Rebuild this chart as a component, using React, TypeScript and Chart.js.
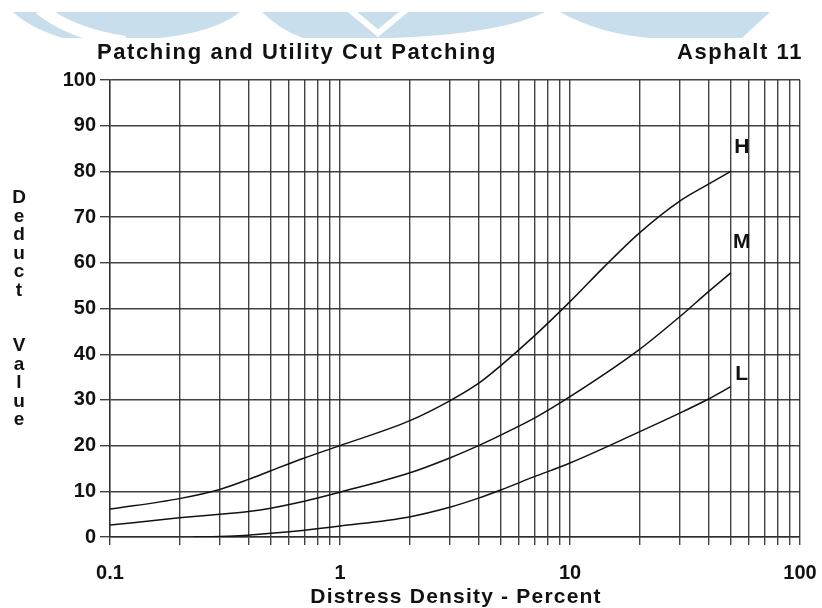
import { useEffect, useRef } from 'react';
import { Chart, registerables } from 'chart.js';

Chart.register(...registerables);

// ---- data ----
const X_GRID = [0.1, 0.2, 0.3, 0.4, 0.5, 0.6, 0.7, 0.8, 0.9, 1, 2, 3, 4, 5, 6, 7, 8, 9, 10, 20, 30, 40, 50, 60, 70, 80, 90, 100];
const X_LABELED = [0.1, 1, 10, 100];
const X_LABELS = ['0.1', '1', '10', '100'];
const Y_MIN = 0;
const Y_MAX = 100;
const Y_STEP = 10;

const H_DENSITY = [0.1, 0.2, 0.3, 0.4, 0.5, 0.7, 1, 2, 3, 4, 5, 7, 10, 14, 20, 30, 40, 50];
const H_VALUES = [6.1, 8.4, 10.4, 12.6, 14.5, 17.3, 20, 25.4, 29.8, 33.6, 37.5, 44, 51.5, 59, 66.5, 73.5, 77.2, 80];

const M_DENSITY = [0.1, 0.2, 0.3, 0.4, 0.5, 0.7, 1, 2, 3, 4, 5, 7, 10, 20, 30, 40, 50];
const M_VALUES = [2.6, 4.2, 5, 5.6, 6.3, 7.8, 9.8, 14, 17.3, 20, 22.3, 26, 30.7, 41, 48.2, 53.7, 57.8];

const L_DENSITY = [0.23, 0.3, 0.4, 0.5, 0.7, 1, 2, 3, 4, 5, 7, 10, 20, 30, 40, 50];
const L_VALUES = [0, 0.1, 0.4, 0.8, 1.5, 2.4, 4.4, 6.5, 8.5, 10.3, 13.2, 16.2, 23, 27.1, 30.2, 32.9];

const SERIES_NAMES = ['H', 'M', 'L'];
const TITLE = 'Patching and Utility Cut Patching';
const SUBTITLE = 'Asphalt 11';
const X_TITLE = 'Distress Density - Percent';
const Y_TITLE = 'Deduct Value';

// ---- styles ----
const FONT = '"Liberation Sans", Arial, Helvetica, sans-serif';
const INK = '#111';
const GRID = 'rgba(45,45,45,0.9)';
const LABEL_OFFSETS: [number, number][] = [[11, -24], [11, -31], [11, -12]];

const toPts = (xs: number[], ys: number[]) => xs.map((x, i) => ({ x, y: ys[i] }));

const textPlugin = {
  id: 'texts',
  beforeDraw(chart: any) {
    const ctx = chart.ctx;
    ctx.save();
    ctx.fillStyle = '#fff';
    ctx.fillRect(0, 0, chart.width, chart.height);
    // watermark band
    ctx.fillStyle = '#c9deec';
    ctx.beginPath();
    ctx.moveTo(13, 12);
    ctx.lineTo(770, 12);
    ctx.lineTo(742, 38);
    ctx.lineTo(63, 38);
    ctx.quadraticCurveTo(30, 28, 13, 12);
    ctx.closePath();
    ctx.fill();
    ctx.fillStyle = '#fff';
    ctx.strokeStyle = '#fff';
    ctx.lineWidth = 12;
    ctx.beginPath();
    ctx.moveTo(40, 9);
    ctx.quadraticCurveTo(72, 34, 125, 42);
    ctx.stroke();
    ctx.beginPath();
    ctx.moveTo(160, 38);
    ctx.quadraticCurveTo(215, 32, 240, 12);
    ctx.lineTo(262, 12);
    ctx.quadraticCurveTo(280, 30, 303, 38);
    ctx.closePath();
    ctx.fill();
    ctx.lineWidth = 6;
    ctx.beginPath();
    ctx.moveTo(350, 10);
    ctx.lineTo(378, 33);
    ctx.lineTo(406, 10);
    ctx.stroke();
    ctx.beginPath();
    ctx.moveTo(392, 38);
    ctx.quadraticCurveTo(500, 34, 545, 12);
    ctx.lineTo(560, 12);
    ctx.quadraticCurveTo(600, 34, 650, 38);
    ctx.closePath();
    ctx.fill();
    ctx.restore();
  },
  afterDraw(chart: any) {
    const ctx = chart.ctx;
    const xs = chart.scales.x;
    const ys = chart.scales.y;
    ctx.save();
    ctx.fillStyle = INK;
    ctx.textBaseline = 'alphabetic';
    ctx.font = `bold 22px ${FONT}`;
    (ctx as any).letterSpacing = '1.6px';
    ctx.textAlign = 'left';
    ctx.fillText(TITLE, 97, 59);
    ctx.textAlign = 'right';
    ctx.fillText(SUBTITLE, 803, 59);

    ctx.font = `bold 21px ${FONT}`;
    (ctx as any).letterSpacing = '1.2px';
    ctx.textAlign = 'center';
    ctx.textBaseline = 'middle';
    ctx.fillText(X_TITLE, (xs.left + xs.right) / 2 + 1, 597);

    (ctx as any).letterSpacing = '0px';
    ctx.font = `bold 19px ${FONT}`;
    let yy = 198;
    for (const ch of Y_TITLE) {
      if (ch === ' ') { yy += 18.5 * 2; continue; }
      ctx.fillText(ch, 19, yy);
      yy += 18.5;
    }

    ctx.font = `bold 21px ${FONT}`;
    const sets = [H_DENSITY, M_DENSITY, L_DENSITY];
    const vals = [H_VALUES, M_VALUES, L_VALUES];
    SERIES_NAMES.forEach((n, i) => {
      const lx = xs.getPixelForValue(sets[i][sets[i].length - 1]) + LABEL_OFFSETS[i][0];
      const ly = ys.getPixelForValue(vals[i][vals[i].length - 1]) + LABEL_OFFSETS[i][1];
      ctx.fillText(n, lx, ly);
    });
    ctx.restore();
  },
};

export default function App() {
  const ref = useRef<HTMLCanvasElement | null>(null);
  useEffect(() => {
    if (!ref.current) return;
    const ds = (xs: number[], ys: number[]) => ({
      data: toPts(xs, ys),
      showLine: true,
      borderColor: INK,
      borderWidth: 1.5,
      pointRadius: 0,
      cubicInterpolationMode: 'monotone' as const,
      fill: false,
    });
    const chart = new Chart(ref.current, {
      type: 'scatter',
      data: {
        datasets: [ds(H_DENSITY, H_VALUES), ds(M_DENSITY, M_VALUES), ds(L_DENSITY, L_VALUES)],
      },
      options: {
        animation: false,
        responsive: false,
        devicePixelRatio: 1,
        layout: { padding: { left: 0, right: 22, top: 80, bottom: 0 } },
        plugins: { legend: { display: false }, tooltip: { enabled: false } },
        scales: {
          x: {
            type: 'logarithmic',
            min: 0.1,
            max: 100,
            afterBuildTicks: (s: any) => {
              s.ticks = X_GRID.map((v) => ({ value: v }));
            },
            afterFit: (s: any) => {
              s.height = 71;
              s.paddingLeft = 0;
              s.paddingRight = 0;
            },
            ticks: {
              autoSkip: false,
              maxRotation: 0,
              minRotation: 0,
              padding: 16,
              color: INK,
              font: { family: FONT, size: 20, weight: 'bold' },
              callback: (v: any) => {
                const i = X_LABELED.indexOf(Number(v));
                return i >= 0 ? X_LABELS[i] : '';
              },
            },
            grid: { color: GRID, lineWidth: 1.4, tickLength: 8, tickColor: GRID },
            border: { color: GRID, width: 1.4 },
          },
          y: {
            type: 'linear',
            min: Y_MIN,
            max: Y_MAX,
            afterFit: (s: any) => {
              s.width = 110;
              s.paddingTop = 0;
              s.paddingBottom = 0;
            },
            ticks: {
              stepSize: Y_STEP,
              padding: 4,
              color: INK,
              font: { family: FONT, size: 20, weight: 'bold' },
            },
            grid: { color: GRID, lineWidth: 1.4, tickLength: 10, tickColor: GRID },
            border: { color: GRID, width: 1.4 },
          },
        },
      },
      plugins: [textPlugin],
    });
    return () => chart.destroy();
  }, []);
  return (
    <div style={{ position: 'fixed', left: 0, top: 0, width: 822, height: 608, background: '#fff' }}>
      <canvas ref={ref} width={822} height={608} style={{ display: 'block' }} />
    </div>
  );
}
